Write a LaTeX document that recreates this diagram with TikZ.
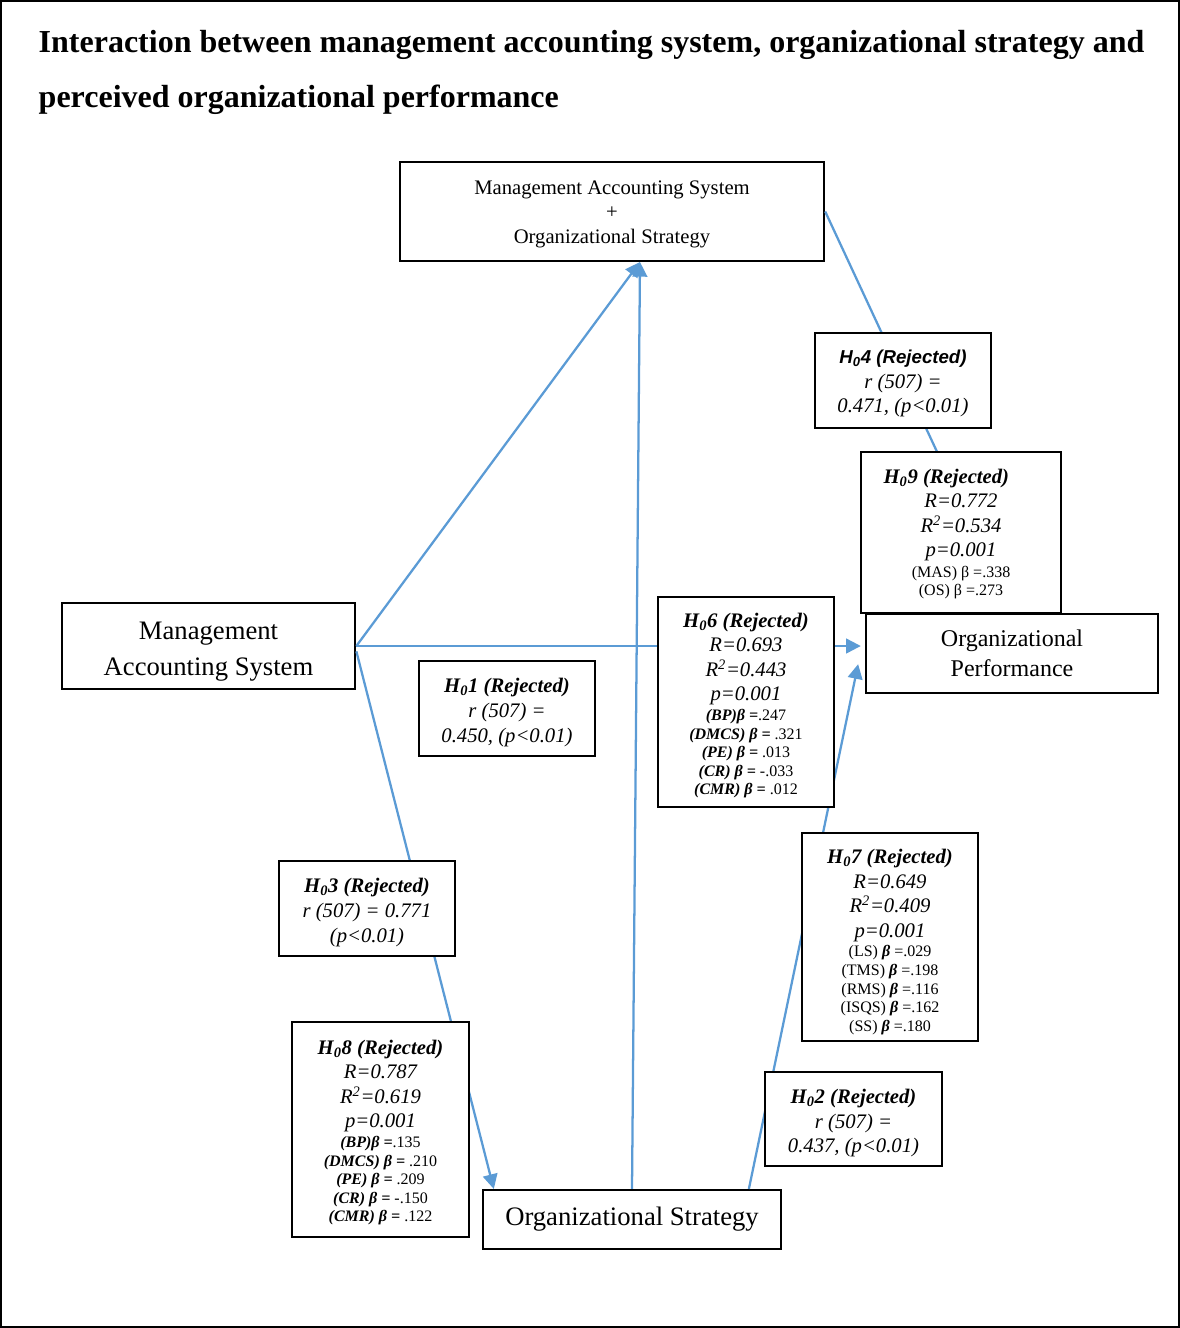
\documentclass[tikz,border=0pt]{standalone}
\usepackage{fontspec}
\setmainfont{Liberation Serif}
\setsansfont{Liberation Sans}
\usepackage{xcolor}
\usetikzlibrary{arrows.meta}
\definecolor{linkblue}{HTML}{5B9BD5}
\newcommand{\betasize}{\fontsize{12}{13.9}\selectfont}

\begin{document}
\begin{tikzpicture}[
  x=0.75pt, y=-0.75pt,
  mainbox/.style={draw, line width=1.8pt, fill=white, align=center,
                  inner sep=2pt},
  hyp/.style={draw, line width=1.5pt, fill=white, align=center,
              inner sep=2pt, minimum width=132pt,
              font=\fontsize{15.5}{18.4}\selectfont\itshape},
  link/.style={draw=linkblue, line width=1.7pt},
  arr/.style={link, -{Triangle[length=11pt, width=11pt]}}
]
\useasboundingbox (0,0) rectangle (1180,1328);
\draw[line width=1.2pt] (1,1) rectangle (1179,1327);

% title
\node[anchor=base west, font=\fontsize{24}{41}\selectfont\bfseries] (title1) at (34,52)
  {Interaction between management accounting system, organizational strategy and};
\node[anchor=base west, font=\fontsize{24}{41}\selectfont\bfseries] (title2) at (34,107)
  {perceived organizational performance};

% constructs
\node[mainbox, minimum width=318pt, minimum height=74pt,
      font=\fontsize{15.5}{18.4}\selectfont] (masos) at (612,211.5)
  {\rule{0pt}{14pt}Management Accounting System\\+\\Organizational Strategy};
\node[mainbox, minimum width=220pt, minimum height=64.5pt,
      font=\fontsize{20}{27}\selectfont] (mas) at (208.5,646)
  {\rule{0pt}{22pt}Management\\Accounting System};
\node[mainbox, minimum width=219pt, minimum height=59pt,
      font=\fontsize{18}{22.5}\selectfont] (op) at (1012,653.5)
  {Organizational\\Performance};
\node[mainbox, minimum width=223.5pt, minimum height=44pt,
      font=\fontsize{20}{24}\selectfont] (os) at (632,1219.5)
  {Organizational Strategy};

% links
\draw[arr] (mas.east) -- ([xshift=21pt]masos.south);
\draw[arr, shorten >=3pt] (mas.east) -- (mas.east -| op.west);
\draw[arr] ([yshift=-4pt]mas.east) -- ([xshift=9pt]os.north west);
\draw[arr] (os.north) -- ([xshift=21pt]masos.south);
\draw[arr] ([xshift=-25pt]os.north east) -- ([xshift=-5pt,yshift=-8pt]op.west);
\draw[link] (masos.east) -- (op.north);

% hypotheses
\node[hyp, minimum height=71pt] (h4) at (903,380.5)
  {{\fontsize{14}{18.4}\selectfont\sffamily\bfseries\rule{0pt}{15pt}H\textsubscript{0}4 (Rejected)}\\r (507) =\\0.471, (p<0.01)};
\node[hyp, minimum width=150pt, minimum height=121pt] (h9) at (961,532.5)
  {\rule{0pt}{13pt}\textbf{H\textsubscript{0}9 (Rejected)}\hspace*{22pt}\\R=0.772\\R\textsuperscript{2}=0.534\\p=0.001\\[-3pt]
   \betasize\upshape (MAS) β =.338\\[-4.5pt]
   \betasize\upshape (OS) β =.273};
\node[hyp, minimum height=157.5pt] (h6) at (746,702)
  {\rule{0pt}{16pt}\textbf{H\textsubscript{0}6 (Rejected)}\\R=0.693\\R\textsuperscript{2}=0.443\\p=0.001\\[-3.5pt]
   \betasize\textbf{(BP)β =}\upshape.247\\[-4.5pt]
   \betasize\textbf{(DMCS) β =} \upshape.321\\[-4.5pt]
   \betasize\textbf{(PE) β =} \upshape.013\\[-4.5pt]
   \betasize\textbf{(CR) β =} \upshape-.033\\[-4.5pt]
   \betasize\textbf{(CMR) β =} \upshape.012};
\node[hyp, minimum height=71pt] (h1) at (507,708.5)
  {\rule{0pt}{16.8pt}\textbf{H\textsubscript{0}1 (Rejected)}\\r (507) =\\0.450, (p<0.01)};
\node[hyp, minimum height=71pt] (h3) at (367,908.5)
  {\rule{0pt}{16.8pt}\textbf{H\textsubscript{0}3 (Rejected)}\\r (507) = 0.771\\(p<0.01)};
\node[hyp, minimum height=156pt] (h7) at (890,937)
  {\rule{0pt}{18pt}\textbf{H\textsubscript{0}7 (Rejected)}\\R=0.649\\R\textsuperscript{2}=0.409\\p=0.001\\[-3.5pt]
   \betasize\upshape(LS) \textbf{\textit{β}} =.029\\[-4.5pt]
   \betasize\upshape(TMS) \textbf{\textit{β}} =.198\\[-4.5pt]
   \betasize\upshape(RMS) \textbf{\textit{β}} =.116\\[-4.5pt]
   \betasize\upshape(ISQS) \textbf{\textit{β}} =.162\\[-4.5pt]
   \betasize\upshape(SS) \textbf{\textit{β}} =.180};
\node[hyp, minimum width=133pt, minimum height=161pt] (h8) at (380.5,1129.5)
  {\rule{0pt}{15pt}\textbf{H\textsubscript{0}8 (Rejected)}\\R=0.787\\R\textsuperscript{2}=0.619\\p=0.001\\[-3.5pt]
   \betasize\textbf{(BP)β =}\upshape.135\\[-4.5pt]
   \betasize\textbf{(DMCS) β =} \upshape.210\\[-4.5pt]
   \betasize\textbf{(PE) β =} \upshape.209\\[-4.5pt]
   \betasize\textbf{(CR) β =} \upshape-.150\\[-4.5pt]
   \betasize\textbf{(CMR) β =} \upshape.122};
\node[hyp, minimum width=133pt, minimum height=70.5pt] (h2) at (853.5,1119)
  {\rule{0pt}{16.8pt}\textbf{H\textsubscript{0}2 (Rejected)}\\r (507) =\\0.437, (p<0.01)};
\end{tikzpicture}
\end{document}
